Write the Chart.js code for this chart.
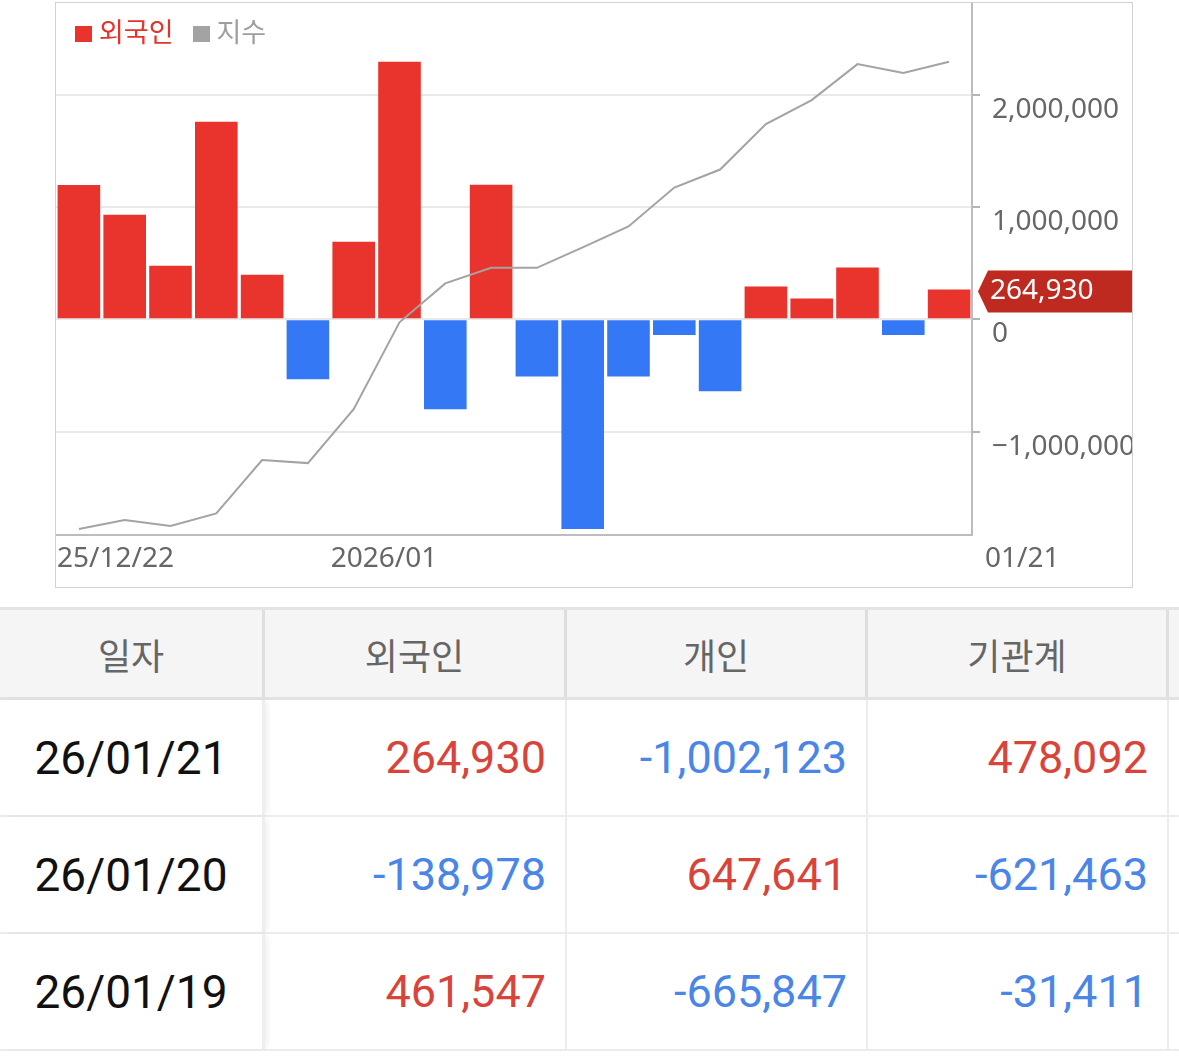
<!DOCTYPE html>
<html lang="ko">
<head>
<meta charset="utf-8">
<title>외국인 순매매</title>
<script src="https://cdn.jsdelivr.net/npm/chart.js@4"></script>
<style>
  html, body { margin: 0; padding: 0; background: #fff; }
  body {
    width: 1179px;
    height: 1057px;
    position: relative;
    overflow: hidden;
    font-family: Roboto, "Noto Sans CJK KR", sans-serif;
  }
  #chartBox {
    position: absolute;
    left: 55px;
    top: 2px;
    width: 1078px;
    height: 586px;
    border: 1px solid #d2d2d2;
    box-sizing: border-box;
  }
  #chartBox canvas { display: block; }
  .legend {
    position: absolute;
    left: 19px;
    top: 11px;
    height: 34px;
    display: flex;
    align-items: center;
    font-family: "Noto Sans CJK KR", sans-serif;
    font-size: 27px;
    line-height: 34px;
  }
  .legend .box { width: 17px; height: 16px; margin-right: 7px; margin-top: 5px; }
  .legend .item { display: flex; align-items: center; }
  .legend .item + .item { margin-left: 19px; }

  #table { position: absolute; left: 0; top: 607px; width: 1479px; }
  .hrow, .row { display: flex; box-sizing: border-box; }
  .hrow {
    height: 93px;
    border-top: 3px solid #e4e4e4;
    border-bottom: 3px solid #e2e2e2;
    background: #f5f5f5;
  }
  .row { height: 117px; border-bottom: 2px solid #ececec; }
  .cell {
    box-sizing: border-box;
    height: 100%;
    display: flex;
    align-items: center;
    flex: none;
  }
  .c1 { width: 265px; justify-content: center; }
  .c2 { width: 302px; }
  .c3, .c4 { width: 301px; }
  .c5 { width: 300px; }
  .hrow .cell {
    border-right: 3px solid #dedede;
    justify-content: center;
    font-family: "Noto Sans CJK KR", sans-serif;
    font-size: 36px;
    color: #666;
  }
  .row .cell {
    border-right: 2px solid #ececec;
    font-size: 45px;
    justify-content: flex-end;
    padding-right: 19px;
  }
  .row .cell.c1 {
    justify-content: center;
    padding-right: 0;
    color: #111;
    font-size: 46px;
    position: relative;
    z-index: 1;
    background: #fff;
    border-right: 3px solid #eeeeee;
    box-shadow: 4px 0 6px -2px rgba(0, 0, 0, 0.08);
  }
  .up { color: #d9443a; }
  .down { color: #4a85e8; }
</style>
</head>
<body>
<div id="chartBox">
  <canvas id="flowChart"></canvas>
  <div class="legend">
    <div class="item"><span class="box" style="background:#e8342c"></span><span style="color:#e5332a">외국인</span></div>
    <div class="item"><span class="box" style="background:#a3a3a3"></span><span style="color:#9e9e9e">지수</span></div>
  </div>
</div>

<div id="table">
  <div class="hrow">
    <div class="cell c1">일자</div>
    <div class="cell c2">외국인</div>
    <div class="cell c3">개인</div>
    <div class="cell c4">기관계</div>
    <div class="cell c5"></div>
  </div>
  <div id="rows"></div>
</div>

<script>
// trading days shown in the chart
const dates = [
  "25/12/22", "25/12/23", "25/12/24", "25/12/26", "25/12/29", "25/12/30",
  "26/01/02", "26/01/05", "26/01/06", "26/01/07", "26/01/08", "26/01/09",
  "26/01/12", "26/01/13", "26/01/14", "26/01/15", "26/01/16", "26/01/19",
  "26/01/20", "26/01/21",
];

// foreign net buying (bars)
const foreignNet = [
  1195000, 931000, 477000, 1758000, 397000, -533000,
  691000, 2291000, -800000, 1197000, -509000, -1867000,
  -509000, -140000, -640000, 291000, 184000, 461547,
  -138978, 264930,
];

// index line (hidden axis)
const indexValues = [
  4105, 4120, 4110, 4131, 4220, 4215,
  4305, 4450, 4515, 4541, 4541, 4575,
  4610, 4675, 4705, 4781, 4821, 4881,
  4866, 4885,
];

const xTickLabels = ["25/12/22", "2026/01", "01/21"];
const xTickIndex = [0, 6, 19];
const yTicks = [-1000000, 0, 1000000, 2000000];

// table rows
const tableDates = ["26/01/21", "26/01/20", "26/01/19"];
const tableForeign = [264930, -138978, 461547];
const tableIndividual = [-1002123, 647641, -665847];
const tableInstitution = [478092, -621463, -31411];

const RED = "#e8342c";
const BLUE = "#3578f6";

function fmt(v) {
  return v.toLocaleString("en-US");
}

function fmtTick(v) {
  return v < 0 ? "\u2212" + fmt(Math.abs(v)) : fmt(v);
}

// date labels under the axis and the last value tag on the right
const overlayPlugin = {
  id: "overlay",
  afterDraw(chart) {
    const { ctx, chartArea, scales } = chart;
    const x = scales.x;
    const y = scales.y;
    const half = (x.getPixelForValue(1) - x.getPixelForValue(0)) / 2;
    const ly = chartArea.bottom + 24;

    ctx.save();
    ctx.font = '28px "Noto Sans"';
    ctx.fillStyle = "#666";
    ctx.textBaseline = "middle";
    ctx.textAlign = "left";
    ctx.fillText(xTickLabels[0], x.getPixelForValue(xTickIndex[0]) - half + 1, ly);
    ctx.fillText(xTickLabels[1], x.getPixelForValue(xTickIndex[1]) - half, ly);
    ctx.fillText(xTickLabels[2], chartArea.right + 13, ly);

    const last = foreignNet[foreignNet.length - 1];
    const ty = y.getPixelForValue(last) + 2;
    const tx = chartArea.right + 6;
    ctx.beginPath();
    ctx.moveTo(tx, ty);
    ctx.lineTo(tx + 10, ty - 21);
    ctx.lineTo(chart.width, ty - 21);
    ctx.lineTo(chart.width, ty + 21);
    ctx.lineTo(tx + 10, ty + 21);
    ctx.closePath();
    ctx.fillStyle = "#bf2a20";
    ctx.fill();

    ctx.fillStyle = "#fff";
    ctx.font = '28px "Noto Sans"';
    ctx.fillText(fmt(last), tx + 12, ty);
    ctx.restore();
  },
};

new Chart(document.getElementById("flowChart"), {
  data: {
    labels: dates,
    datasets: [
      {
        type: "line",
        label: "지수",
        data: indexValues,
        yAxisID: "y2",
        borderColor: "#a3a3a3",
        borderWidth: 2,
        pointRadius: 0,
        tension: 0,
        order: 0,
      },
      {
        type: "bar",
        label: "외국인",
        data: foreignNet,
        yAxisID: "y",
        backgroundColor: foreignNet.map((v) => (v >= 0 ? RED : BLUE)),
        barPercentage: 0.93,
        categoryPercentage: 1,
        order: 1,
      },
    ],
  },
  options: {
    responsive: true,
    maintainAspectRatio: false,
    animation: false,
    layout: { padding: 0 },
    plugins: {
      legend: { display: false },
      tooltip: { enabled: false },
    },
    scales: {
      x: {
        grid: { display: false },
        border: { display: true, color: "#bdbdbd", width: 2 },
        ticks: { display: false },
        afterFit(scale) {
          scale.height = 52;
          scale.paddingLeft = 0;
          scale.paddingRight = 0;
        },
      },
      y: {
        position: "right",
        min: -1920000,
        max: 2815000,
        afterBuildTicks(scale) {
          scale.ticks = yTicks.map((v) => ({ value: v }));
        },
        grid: {
          color: "#e9e9e9",
          lineWidth: 2,
          tickColor: "#b3b3b3",
          tickLength: 8,
        },
        border: { color: "#bdbdbd", width: 2 },
        ticks: {
          color: "#666",
          font: { family: "Noto Sans", size: 28 },
          padding: 12,
          labelOffset: 15,
          callback: (v) => fmtTick(v),
        },
        afterFit(scale) {
          scale.width = 160;
          scale.paddingTop = 0;
          scale.paddingBottom = 0;
        },
      },
      y2: {
        display: false,
        min: 4095,
        max: 4983,
      },
    },
  },
  plugins: [overlayPlugin],
});

// table body
const rowsEl = document.getElementById("rows");
tableDates.forEach((d, i) => {
  const row = document.createElement("div");
  row.className = "row";
  const nums = [tableForeign[i], tableIndividual[i], tableInstitution[i]];
  row.innerHTML =
    `<div class="cell c1">${d}</div>` +
    nums
      .map((v, j) => `<div class="cell c${j + 2} ${v >= 0 ? "up" : "down"}">${fmt(v)}</div>`)
      .join("") +
    `<div class="cell c5"></div>`;
  rowsEl.appendChild(row);
});
</script>
</body>
</html>
